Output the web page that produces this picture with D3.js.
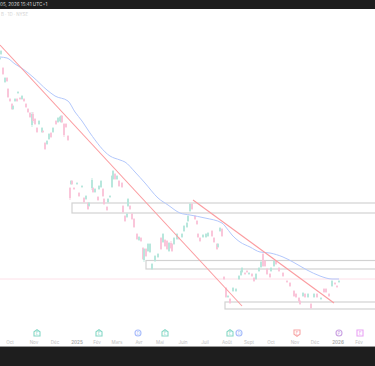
<!DOCTYPE html>
<html>
<head>
<meta charset="utf-8">
<script src="https://cdn.jsdelivr.net/npm/d3@7"></script>
<style>
    html, body { margin: 0; padding: 0; background: #fff; overflow: hidden; }
    svg { display: block; font-family: Inter, sans-serif; }
</style>
</head>
<body>
<svg id="chart"></svg>
<script>
// Session number, open, high, low, close
const candlesFirstLeg = [
    [0, 26.1, 26.3, 26.0, 26.2], [1, 26.6, 27.0, 26.5, 26.9], [3, 25.2, 25.3, 24.5, 24.6],
    [5, 23.8, 24.3, 23.7, 24.2], [7, 24.2, 24.3, 23.8, 23.9], [8, 23.1, 23.2, 22.2, 22.3],
    [10, 22.1, 22.2, 21.8, 21.9], [12, 21.6, 21.7, 21.0, 21.1], [13, 21.1, 21.5, 21.0, 21.4],
    [15, 21.9, 22.2, 21.8, 22.1], [17, 22.1, 22.2, 21.8, 21.9], [18, 22.7, 22.9, 22.6, 22.8],
    [20, 22.2, 22.3, 22.0, 22.1], [22, 22.1, 22.5, 22.0, 22.4], [24, 22.1, 22.2, 21.8, 21.9],
    [26, 21.6, 21.7, 21.2, 21.3], [28, 21.1, 21.2, 20.7, 20.8], [30, 20.7, 20.8, 20.2, 20.3],
    [32, 19.5, 20.8, 19.3, 20.6], [33, 20.6, 20.8, 19.7, 19.9], [35, 20.1, 20.2, 19.5, 19.6],
    [37, 19.2, 19.3, 18.7, 18.8], [39, 19.6, 20.0, 19.5, 19.9], [42, 18.8, 19.3, 18.7, 19.2],
    [43, 18.9, 19.0, 18.7, 18.8], [45, 17.7, 17.8, 17.0, 17.1], [47, 17.6, 18.0, 17.5, 17.9],
    [49, 18.1, 18.7, 18.0, 18.6], [51, 18.7, 18.8, 18.2, 18.3], [53, 18.8, 19.3, 18.7, 19.2],
    [56, 19.9, 20.0, 19.5, 19.6], [58, 19.8, 20.3, 19.7, 20.2], [60, 19.9, 20.4, 19.8, 20.3],
    [61, 19.8, 20.5, 19.7, 20.4], [62, 20.4, 20.5, 19.7, 19.8], [64, 19.6, 19.7, 18.3, 18.5],
    [66, 19.6, 19.7, 19.2, 19.3], [68, 18.4, 18.5, 17.9, 18.0]
];

const candlesSecondLeg = [
    [70, 13.2, 13.3, 12.0, 12.2], [71, 13.6, 14.0, 13.5, 13.9], [72, 13.9, 14.0, 13.5, 13.6],
    [74, 13.2, 13.3, 13.0, 13.1], [77, 13.6, 13.8, 13.5, 13.7], [79, 12.7, 12.8, 12.3, 12.4],
    [82, 13.3, 13.5, 13.2, 13.4], [84, 12.2, 12.3, 11.7, 11.8], [86, 12.1, 12.5, 12.0, 12.4],
    [88, 11.7, 11.8, 11.0, 11.1], [89, 11.4, 11.8, 11.3, 11.7], [92, 13.2, 14.2, 13.0, 14.0],
    [93, 13.2, 13.3, 12.7, 12.8], [95, 12.8, 13.2, 12.7, 13.1], [98, 12.3, 12.4, 11.9, 12.0],
    [99, 13.1, 13.5, 13.0, 13.4], [101, 13.3, 14.0, 13.2, 13.9], [103, 13.1, 13.2, 12.3, 12.4],
    [104, 12.1, 12.2, 11.5, 11.6], [107, 11.3, 11.4, 10.9, 11.0], [108, 11.8, 12.2, 11.7, 12.1],
    [110, 12.3, 12.5, 12.2, 12.4], [112, 13.3, 14.5, 13.2, 14.4], [113, 14.1, 15.0, 14.0, 14.9],
    [115, 14.6, 14.7, 14.0, 14.1], [117, 14.1, 14.5, 14.0, 14.4], [119, 13.9, 14.0, 13.3, 13.4],
    [122, 13.7, 13.8, 13.2, 13.3], [123, 11.4, 11.5, 10.7, 10.8], [125, 10.4, 10.5, 9.8, 9.9],
    [127, 10.3, 10.7, 10.2, 10.6], [128, 11.4, 12.2, 11.3, 12.1], [130, 11.4, 11.5, 11.0, 11.1],
    [132, 10.6, 10.7, 10.0, 10.1], [134, 10.1, 10.2, 9.2, 9.3], [137, 8.6, 8.7, 8.0, 8.1],
    [139, 8.0, 8.4, 7.9, 8.3], [141, 8.2, 8.3, 7.8, 7.9], [143, 7.2, 7.3, 6.0, 6.1],
    [144, 6.0, 7.2, 5.8, 7.1], [146, 7.1, 7.2, 6.3, 6.4], [148, 6.9, 7.7, 6.8, 7.6]
];

const candlesRebound = [
    [150, 6.8, 7.7, 6.7, 7.6], [152, 5.1, 5.7, 5.0, 5.6], [155, 5.9, 6.5, 5.8, 6.4],
    [158, 6.3, 6.7, 6.2, 6.6], [161, 8.2, 8.3, 7.0, 7.1], [163, 7.8, 8.7, 7.7, 8.6],
    [165, 8.0, 8.1, 7.3, 7.4], [167, 7.9, 8.0, 7.0, 7.1], [169, 6.9, 7.8, 6.8, 7.7],
    [171, 7.7, 7.9, 7.1, 7.2], [172, 7.6, 7.7, 6.8, 6.9], [174, 7.6, 8.3, 7.5, 8.2],
    [177, 8.1, 8.7, 8.0, 8.6], [179, 8.2, 8.3, 8.0, 8.1], [182, 8.3, 8.7, 8.2, 8.6],
    [184, 8.9, 9.5, 8.8, 9.4], [187, 9.3, 9.8, 9.2, 9.7], [188, 9.9, 10.5, 9.8, 10.4],
    [190, 10.9, 11.7, 10.8, 11.6], [192, 11.6, 11.7, 11.0, 11.1], [195, 10.4, 10.5, 10.0, 10.1],
    [197, 9.9, 10.0, 9.5, 9.6], [198, 8.6, 8.7, 8.2, 8.3], [200, 8.2, 8.3, 7.8, 7.9],
    [203, 8.3, 8.6, 8.2, 8.5], [206, 8.3, 8.7, 8.2, 8.6], [208, 8.4, 8.8, 8.3, 8.7],
    [212, 8.9, 9.0, 8.3, 8.4], [214, 8.2, 8.3, 7.7, 7.8], [217, 7.6, 7.7, 7.0, 7.1],
    [218, 7.3, 7.7, 7.2, 7.6], [220, 8.9, 9.3, 8.8, 9.2], [222, 9.1, 9.2, 8.3, 8.4]
];

const candlesLastLeg = [
    [224, 4.3, 4.4, 4.0, 4.1], [226, 3.2, 3.3, 2.2, 2.3], [228, 2.3, 2.5, 2.2, 2.4],
    [230, 2.1, 2.2, 1.6, 1.7], [233, 2.9, 3.3, 2.8, 3.2], [236, 2.9, 3.2, 2.8, 3.1],
    [239, 4.1, 4.5, 4.0, 4.4], [241, 4.5, 5.0, 4.4, 4.9], [242, 4.8, 5.3, 4.7, 5.2],
    [245, 4.7, 4.8, 4.5, 4.6], [247, 4.9, 5.0, 4.7, 4.8], [249, 4.6, 4.8, 4.5, 4.7],
    [252, 4.6, 4.7, 4.3, 4.4], [254, 4.2, 4.3, 3.8, 3.9], [256, 4.1, 4.7, 4.0, 4.6],
    [259, 4.9, 5.3, 4.8, 5.2], [261, 5.3, 5.9, 5.2, 5.8], [263, 6.6, 6.7, 5.3, 5.4],
    [265, 5.9, 6.0, 5.3, 5.4], [267, 5.1, 5.2, 4.5, 4.6], [270, 4.6, 4.7, 4.2, 4.3],
    [271, 4.9, 5.3, 4.8, 5.2], [274, 5.4, 6.0, 5.3, 5.9], [276, 5.9, 6.0, 5.5, 5.6],
    [279, 5.2, 5.3, 4.8, 4.9], [283, 4.7, 4.8, 4.3, 4.4], [287, 3.9, 4.0, 3.7, 3.8],
    [290, 3.7, 3.8, 3.3, 3.4], [294, 2.9, 3.0, 2.3, 2.4], [296, 2.6, 2.7, 2.2, 2.3],
    [299, 2.2, 2.3, 1.8, 1.9], [300, 1.9, 2.0, 1.5, 1.6], [303, 2.4, 2.8, 2.3, 2.7],
    [305, 2.6, 2.7, 2.2, 2.3], [308, 2.3, 2.7, 2.2, 2.6], [311, 1.6, 1.7, 1.1, 1.2],
    [314, 2.3, 2.7, 2.2, 2.6], [317, 2.6, 2.7, 2.2, 2.3], [321, 2.1, 2.3, 2.0, 2.2],
    [324, 3.1, 3.2, 2.7, 2.8], [326, 3.1, 3.2, 2.7, 2.8], [329, 2.6, 2.7, 2.3, 2.4],
    [332, 3.4, 4.0, 3.3, 3.9], [335, 3.7, 3.8, 3.5, 3.6], [337, 3.4, 3.5, 3.2, 3.3],
    [339, 3.8, 4.0, 3.7, 3.9]
];

// 200 day moving average, session and value
const movingAverage = [
    [0, 26.3], [7, 26.2], [15, 25.6], [23, 25.1], [33, 24.3], [47, 23.0], [55, 22.4], [68, 21.9],
    [75, 20.8], [82, 19.9], [90, 18.7], [110, 16.4], [120, 16.0], [125, 15.8], [135, 14.8],
    [145, 13.7], [158, 12.2], [168, 11.5], [180, 10.7], [190, 10.5], [205, 10.2], [222, 9.7],
    [225, 9.4], [232, 8.5], [240, 7.8], [250, 7.3], [260, 6.8], [270, 6.7], [283, 6.3],
    [293, 5.8], [307, 5.0], [320, 4.4], [332, 4.1], [339, 4.1]
];

// Trend lines as pairs of session and value
const trendLineLong = [[0, 27.5], [242, 1.4]];
const trendLineShort = [[193, 12.0], [334, 1.7]];

// Price zones: first session, top and bottom of the zone
const priceZones = [[72, 11.7, 10.7], [146, 5.95, 5.1], [225, 1.8, 1.1]];
const lastPrice = 4.1;

// Tick labels along the time axis
const tickDays = [10, 34, 55, 77, 97, 117, 139, 160, 183, 205, 227, 249, 271, 295, 315, 338, 359];
const tickLabels = ["Oct", "Nov", "Déc", "2025", "Fév", "Mars", "Avr", "Mai", "Juin", "Juil", "Août", "Sept", "Oct", "Nov", "Déc", "2026", "Fév"];

// Earnings, dividend and other events shown above the axis
const eventDays = [37, 99, 138, 165, 230, 239, 297, 339, 360];
const eventLabels = ["E", "E", "D", "E", "E", "D", "E", "P", "E"];
const eventKinds = ["good", "good", "div", "good", "good", "div", "bad", "split", "next"];

const headerText = "05, 2026 15:41 UTC+1";
const legendText = "B · 1D · NYSE";

const width = 375;
const height = 366;

const svg = d3.select("#chart")
    .attr("width", width)
    .attr("height", height);

const x = d3.scaleLinear().domain([0, 375]).range([0, width]);
const y = d3.scaleLinear().domain([0, 32]).range([320, 0]);

const upColor = "#b4e6db";
const downColor = "#fac2d7";
const zoneColor = "#d2d2d2";
const trendColor = "#fb9ca0";

// Zones go under everything else
svg.append("g")
    .selectAll("rect")
    .data(priceZones)
    .enter()
    .append("rect")
    .attr("x", d => x(d[0]))
    .attr("y", d => y(d[1]))
    .attr("width", d => width + 5 - x(d[0]))
    .attr("height", d => y(d[2]) - y(d[1]))
    .attr("fill", "none")
    .attr("stroke", zoneColor)
    .attr("stroke-width", 1.2);

// Last price line
svg.append("line")
    .attr("x1", 0)
    .attr("x2", width)
    .attr("y1", y(lastPrice))
    .attr("y2", y(lastPrice))
    .attr("stroke", "#fde0e8")
    .attr("stroke-width", 1);

// Candles
const candles = candlesFirstLeg.concat(candlesSecondLeg, candlesRebound, candlesLastLeg);
const candleColor = d => d[4] >= d[1] ? upColor : downColor;

const candleGroup = svg.append("g");

candleGroup.selectAll("line")
    .data(candles)
    .enter()
    .append("line")
    .attr("x1", d => x(d[0]))
    .attr("x2", d => x(d[0]))
    .attr("y1", d => y(d[2]))
    .attr("y2", d => y(d[3]))
    .attr("stroke", candleColor)
    .attr("stroke-width", 0.8);

candleGroup.selectAll("rect")
    .data(candles)
    .enter()
    .append("rect")
    .attr("x", d => x(d[0]) - 0.9)
    .attr("y", d => y(Math.max(d[1], d[4])))
    .attr("width", 1.8)
    .attr("height", d => Math.abs(y(d[1]) - y(d[4])))
    .attr("fill", candleColor);

// Moving average
const line = d3.line()
    .x(d => x(d[0]))
    .y(d => y(d[1]))
    .curve(d3.curveMonotoneX);

svg.append("path")
    .datum(movingAverage)
    .attr("fill", "none")
    .attr("stroke", "#b3c8fc")
    .attr("stroke-width", 1)
    .attr("d", line);

// Trend lines
[trendLineLong, trendLineShort].forEach((trend) => {
    svg.append("path")
        .datum(trend)
        .attr("fill", "none")
        .attr("stroke", trendColor)
        .attr("stroke-width", 1.1)
        .attr("d", d3.line().x(d => x(d[0])).y(d => y(d[1])));
});

// Event markers
const eventColors = d3.scaleOrdinal()
    .domain(["good", "div", "bad", "split", "next"])
    .range(["#86d8c6", "#a9bdfb", "#f7a6a6", "#cba3e3", "#eaa3f4"]);

const events = eventDays.map((d, i) => ({ day: d, label: eventLabels[i], kind: eventKinds[i] }));

const eventGroup = svg.append("g")
    .selectAll("g")
    .data(events)
    .enter()
    .append("g")
    .attr("transform", d => `translate(${x(d.day)}, 333)`);

eventGroup.append("path")
    .attr("d", d => {
        if (d.kind === "div" || d.kind === "split") {
            return "M-3,0a3,3 0 1,0 6,0a3,3 0 1,0 -6,0Z";
        }
        if (d.kind === "next") {
            return "M-3,-3H3V3H-3Z";
        }
        return d.kind === "bad"
            ? "M-3,-3H3V1.2L0,3.3L-3,1.2Z"
            : "M-3,3H3V-1.2L0,-3.3L-3,-1.2Z";
    })
    .attr("fill", "#fff")
    .attr("stroke", d => eventColors(d.kind))
    .attr("stroke-width", 1.1);

eventGroup.append("text")
    .attr("text-anchor", "middle")
    .attr("y", 1.7)
    .style("font-size", "4.5px")
    .attr("fill", d => eventColors(d.kind))
    .text(d => d.label);

// Time axis labels
svg.append("g")
    .selectAll("text")
    .data(tickDays)
    .enter()
    .append("text")
    .attr("x", d => x(d))
    .attr("y", 343.5)
    .attr("text-anchor", "middle")
    .style("font-size", "4.6px")
    .attr("font-weight", (d, i) => /^\d+$/.test(tickLabels[i]) ? 600 : 400)
    .attr("fill", (d, i) => /^\d+$/.test(tickLabels[i]) ? "#a8a8a8" : "#c2c2c2")
    .text((d, i) => tickLabels[i]);

// Dark strips at top and bottom of the screenshot
svg.append("rect")
    .attr("width", width)
    .attr("height", 9)
    .attr("fill", "#1e1e1e");

svg.append("rect")
    .attr("y", 346)
    .attr("width", width)
    .attr("height", 1)
    .attr("fill", "#9a9a9a");

svg.append("rect")
    .attr("y", 347)
    .attr("width", width)
    .attr("height", 19)
    .attr("fill", "#1e1e1e");

svg.append("text")
    .attr("x", 0)
    .attr("y", 6)
    .style("font-size", "4.6px")
    .attr("fill", "#d8d8d8")
    .text(headerText);

svg.append("text")
    .attr("x", 1)
    .attr("y", 15.5)
    .style("font-size", "4.4px")
    .attr("fill", "#d4d4d4")
    .text(legendText);
</script>
</body>
</html>
